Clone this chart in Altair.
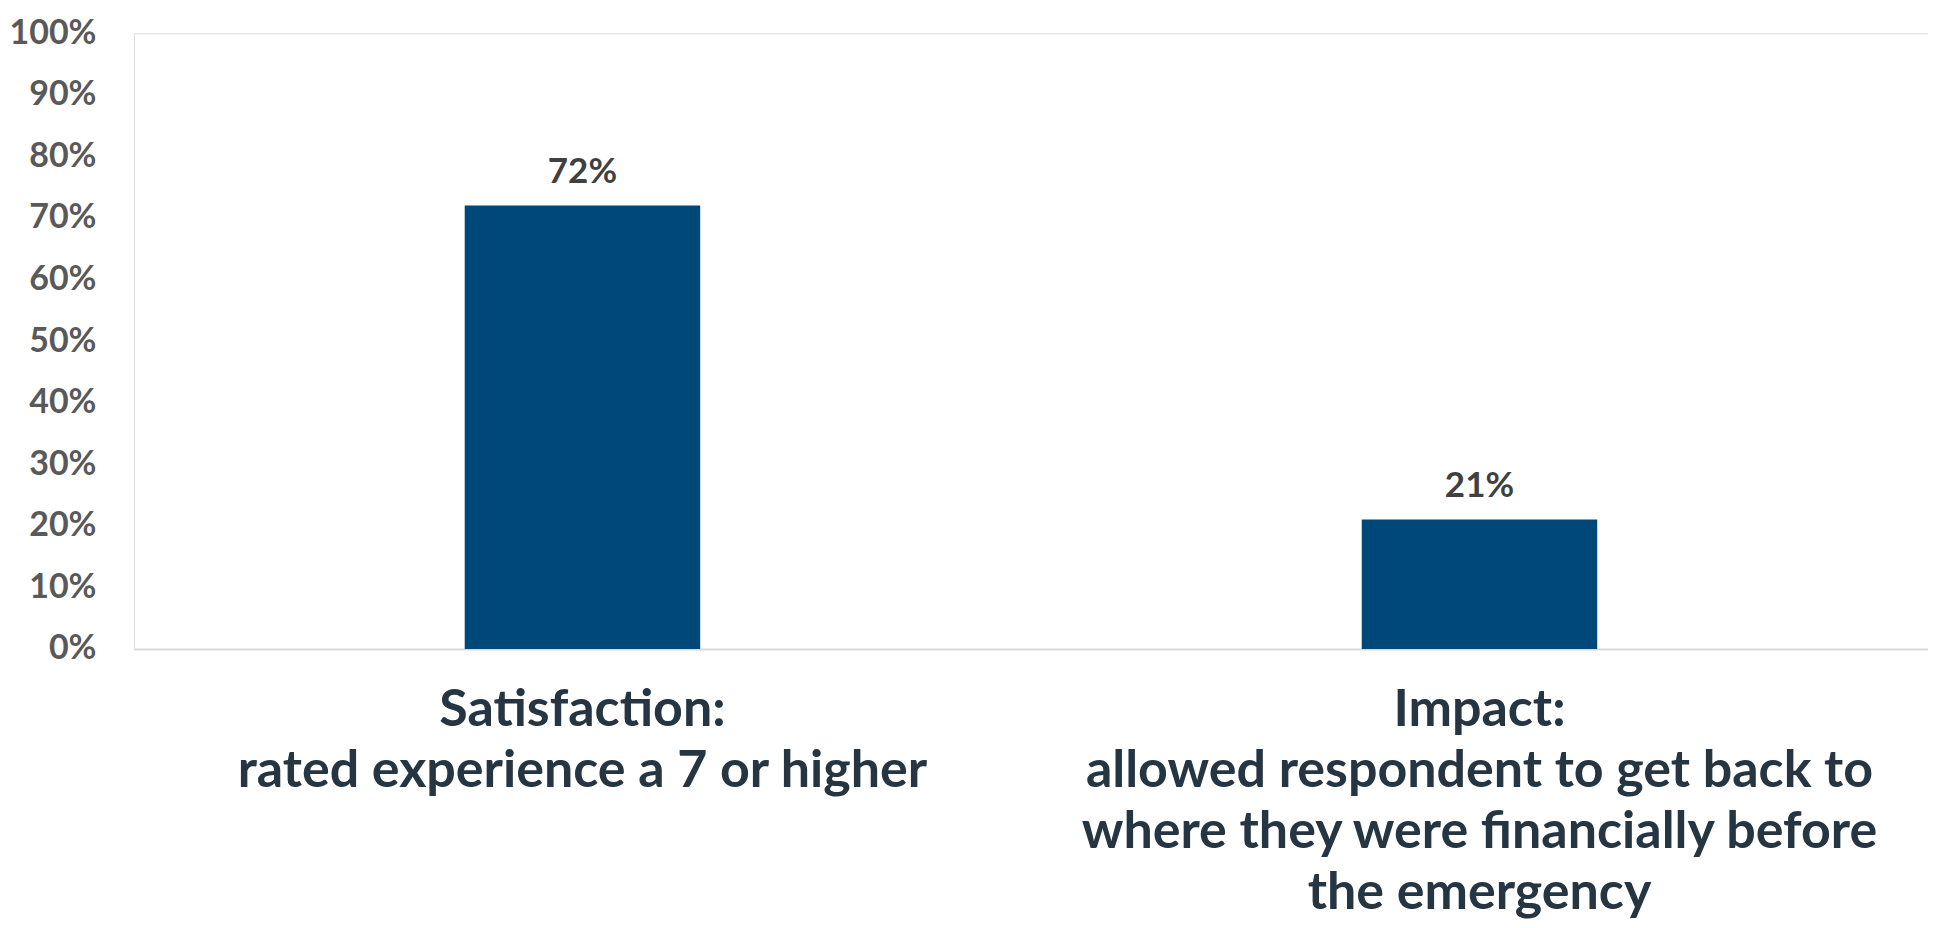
import altair as alt
import pandas as pd

categories = [
    "Satisfaction:|rated experience a 7 or higher",
    "Impact:|allowed respondent to get back to|where they were financially before|the emergency",
]
values = [0.72, 0.21]
value_labels = ["72%", "21%"]

df = pd.DataFrame({"cat": categories, "val": values, "lab": value_labels})

FONT = "Lato"

base = alt.Chart(df).encode(
    x=alt.X(
        "cat:N",
        sort=categories,
        title=None,
        scale=alt.Scale(paddingInner=0.7375, paddingOuter=0.36875),
        axis=alt.Axis(
            labelAngle=0,
            labelExpr="split(datum.label, '|')",
            labelFont=FONT,
            labelFontSize=52,
            labelFontWeight="bold",
            labelColor="#253541",
            labelLineHeight=61,
            labelPadding=36,
            labelBaseline="top",
            labelLimit=0,
            ticks=False,
            domainColor="#d9d9d9",
            domainWidth=2,
            grid=False,
        ),
    ),
    y=alt.Y(
        "val:Q",
        title=None,
        scale=alt.Scale(domain=[0, 1]),
        axis=alt.Axis(
            format=".0%",
            values=[i / 10 for i in range(11)],
            labelFont=FONT,
            labelFontSize=34,
            labelFontWeight="bold",
            labelColor="#595959",
            labelPadding=38,
            ticks=False,
            domain=False,
            grid=False,
        ),
    ),
)

bars = base.mark_bar(color="#00487a")
texts = base.mark_text(
    font=FONT, fontSize=35, fontWeight="bold", color="#404040", dy=-23, baseline="alphabetic"
).encode(text="lab:N")

chart = (
    (bars + texts)
    .properties(
        width=1795,
        height=616,
        padding={"top": 8, "left": 0, "right": 0, "bottom": 0},
    )
    .configure_view(strokeWidth=0)
    .configure(background="white")
)

chart.save("out.html", embed_options={"renderer": "svg", "actions": False})
